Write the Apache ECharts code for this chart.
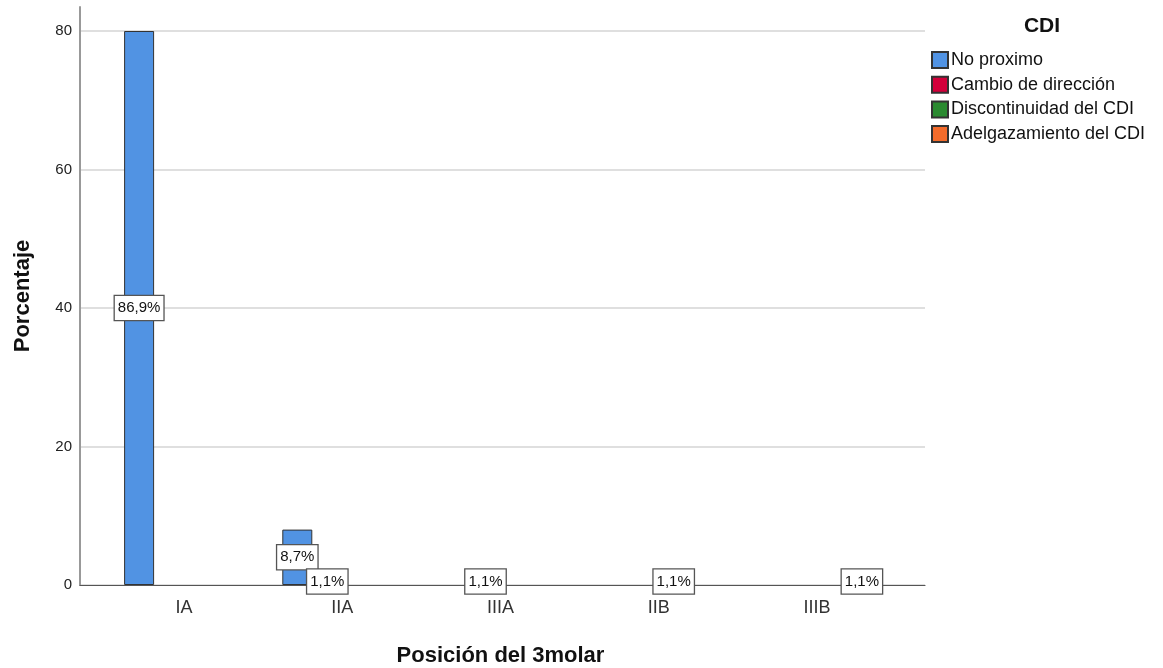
<!DOCTYPE html>
<html>
<head>
<meta charset="utf-8">
<script src="https://cdn.jsdelivr.net/npm/echarts@6/dist/echarts.min.js"></script>
<style>
  html, body { margin: 0; padding: 0; background: #fff; }
  #chart { width: 1163px; height: 668px; }
</style>
</head>
<body>
<div id="chart"></div>
<script>
const categories = ['IA', 'IIA', 'IIIA', 'IIB', 'IIIB']
const seriesNames = ['No proximo', 'Cambio de dirección', 'Discontinuidad del CDI', 'Adelgazamiento del CDI']
const noProximo = [80, 8, 0, 0, 0]
const cambioDireccion = [0, 1, 1, 0, 0]
const discontinuidad = [0, 0, 0, 1, 0]
const adelgazamiento = [0, 0, 0, 0, 1]
// etiquetas de porcentaje tal como aparecen en cada barra
const noProximoPct = ['86,9%', '8,7%', '', '', '']
const cambioPct = ['', '1,1%', '1,1%', '', '']
const discontinuidadPct = ['', '', '', '1,1%', '']
const adelgazamientoPct = ['', '', '', '', '1,1%']
const yTicks = [0, 20, 40, 60, 80]

const COLORS = ['#5193E3', '#D2003A', '#2A8A30', '#F36B2B']
const FONT = "'Liberation Sans', Arial, sans-serif"

const values = [noProximo, cambioDireccion, discontinuidad, adelgazamiento]
const pcts = [noProximoPct, cambioPct, discontinuidadPct, adelgazamientoPct]

const labelBox = {
  show: true, position: 'inside', color: '#111', fontSize: 15, fontFamily: FONT,
  backgroundColor: '#fff', borderColor: '#555', borderWidth: 1.3,
  padding: [5, 3, 4, 3],
}

const chart = echarts.init(document.getElementById('chart'))
chart.setOption({
  animation: false,
  textStyle: { fontFamily: FONT },
  title: {
    text: 'CDI', left: 1037, top: 11, textAlign: 'center',
    textStyle: { fontSize: 21, fontWeight: 'bold', color: '#111', fontFamily: FONT },
  },
  legend: {
    orient: 'vertical', left: 926, top: 46, itemWidth: 16, itemHeight: 16, itemGap: 6.7,
    icon: 'rect',
    textStyle: { fontSize: 18, color: '#111', fontFamily: FONT, padding: [0, 0, 0, -2] },
    data: seriesNames,
  },
  grid: [
    // marco: líneas de cuadrícula y línea base
    { left: 80, right: 238, top: 31, bottom: 83, outerBoundsMode: 'none' },
    // eje vertical, sube por encima del 80
    { left: 80, right: 238, top: 7, bottom: 83, outerBoundsMode: 'none' },
    // barras, con margen a ambos lados
    { left: 105, right: 267, top: 31, bottom: 83, outerBoundsMode: 'none' },
  ],
  xAxis: [
    { gridIndex: 0, type: 'category', data: [''], axisTick: { show: false },
      axisLabel: { show: false }, axisLine: { lineStyle: { color: '#555', width: 1.2 } } },
    { gridIndex: 1, type: 'category', data: [''], show: false },
    { gridIndex: 2, type: 'category', data: categories,
      axisLine: { show: false }, axisTick: { show: false },
      axisLabel: { fontSize: 18, color: '#333', margin: 14, fontFamily: FONT },
      name: 'Posición del 3molar', nameLocation: 'middle', nameGap: 60,
      nameTextStyle: { fontSize: 22, fontWeight: 'bold', color: '#111', fontFamily: FONT } },
  ],
  yAxis: [
    { gridIndex: 0, type: 'value', min: yTicks[0], max: yTicks[yTicks.length - 1], interval: 20,
      axisLine: { show: false }, axisTick: { show: false },
      axisLabel: { fontSize: 15, color: '#222', margin: 8 },
      splitLine: { lineStyle: { color: '#d4d4d4', width: 1.5 } } },
    { gridIndex: 1, type: 'value', min: 0, max: 83.5,
      axisLine: { show: true, lineStyle: { color: '#999', width: 2 } },
      axisTick: { show: false }, axisLabel: { show: false }, splitLine: { show: false },
      name: 'Porcentaje', nameLocation: 'middle', nameGap: 46,
      nameTextStyle: { fontSize: 22, fontWeight: 'bold', color: '#111', fontFamily: FONT } },
    { gridIndex: 2, type: 'value', min: 0, max: 80, show: false },
  ],
  series: seriesNames.map((name, i) => ({
    name, type: 'bar', xAxisIndex: 2, yAxisIndex: 2,
    barWidth: 30, barGap: '0%',
    itemStyle: { color: COLORS[i], borderColor: '#333', borderWidth: 1 },
    data: values[i].map((v, j) => ({
      value: v || null,
      label: pcts[i][j] ? { ...labelBox, formatter: pcts[i][j] } : { show: false },
    })),
  })),
})
</script>
</body>
</html>
